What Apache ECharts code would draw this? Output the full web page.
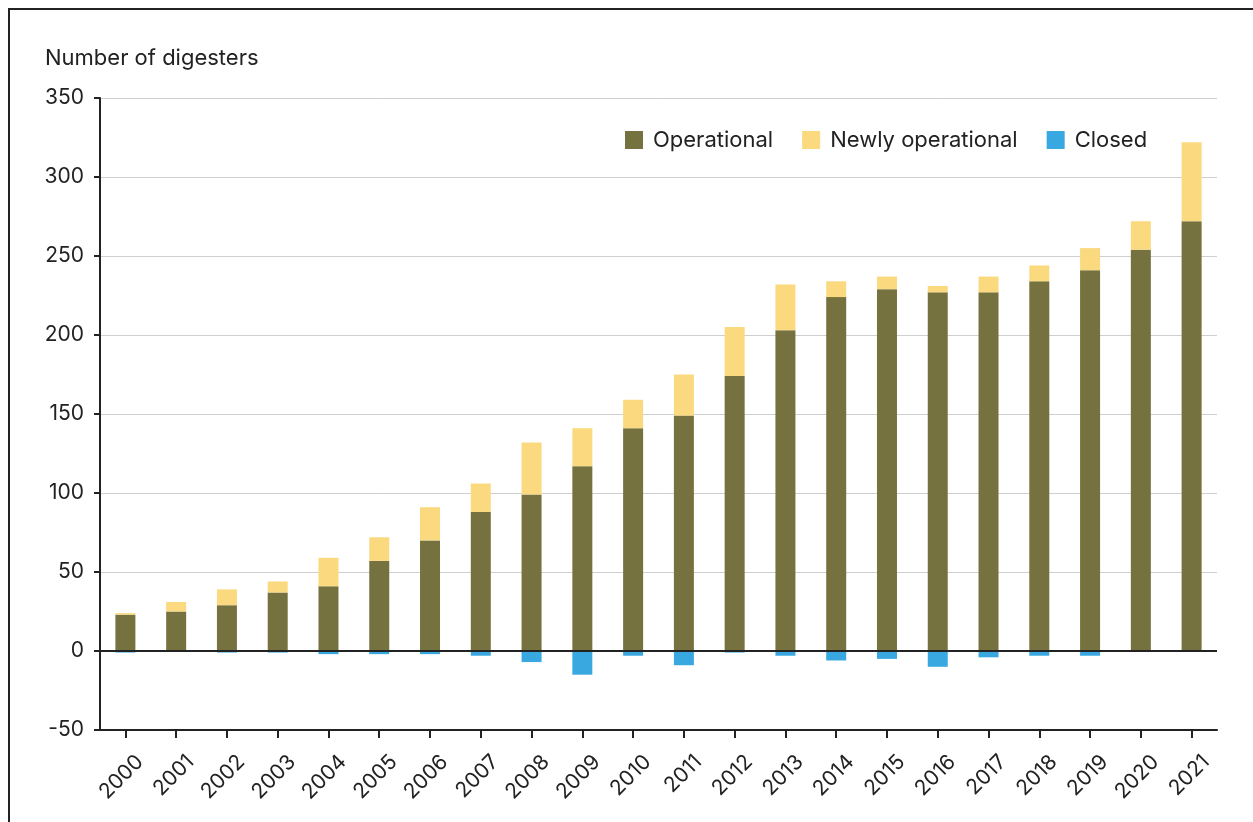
<!DOCTYPE html>
<html>
<head>
<meta charset="utf-8">
<script src="https://cdn.jsdelivr.net/npm/echarts@6/dist/echarts.min.js"></script>
<style>
html,body{margin:0;padding:0;background:#fff;}
#frame{position:absolute;left:8px;top:8px;width:1300px;height:900px;border-left:2px solid #222;border-top:2px solid #222;box-sizing:border-box;}
#chart{position:absolute;left:0;top:0;width:1253px;height:822px;}
</style>
</head>
<body>
<div id="frame"></div>
<div id="chart"></div>
<script>
const years = ['2000','2001','2002','2003','2004','2005','2006','2007','2008','2009','2010','2011','2012','2013','2014','2015','2016','2017','2018','2019','2020','2021'];
const operational = [23,25,29,37,41,57,70,88,99,117,141,149,174,203,224,229,227,227,234,241,254,272];
const newlyOperational = [1,6,10,7,18,15,21,18,33,24,18,26,31,29,10,8,4,10,10,14,18,50];
const closed = [-1,0,-1,-1,-2,-2,-2,-3,-7,-15,-3,-9,-1,-3,-6,-5,-10,-4,-3,-3,0,0];

const FONT = 'Inter, "Noto Sans", sans-serif';
const chart = echarts.init(document.getElementById('chart'), null, {renderer:'canvas'});
chart.setOption({
  animation:false,
  textStyle:{fontFamily:FONT},
  graphic:[{type:'text',left:45,top:47,style:{text:'Number of digesters',font:'22px '+FONT,fill:'#222'}}],
  legend:{
    left:620, top:124, itemWidth:18, itemHeight:18, itemGap:29,
    icon:'rect',
    textStyle:{fontSize:22,color:'#222',fontFamily:FONT,padding:[0,0,0,5]},
    data:['Operational','Newly operational','Closed']
  },
  grid:{left:100,right:36,top:98,bottom:92,containLabel:false},
  xAxis:{
    type:'category', data:years,
    axisLine:{show:true,onZero:false,lineStyle:{color:'#222',width:2}},
    axisTick:{show:true,alignWithLabel:true,length:8,lineStyle:{color:'#222',width:2}},
    axisLabel:{rotate:45,fontSize:21,color:'#222',margin:14,fontFamily:FONT,verticalAlign:'top',align:'right',padding:[10,0,0,0]},
    splitLine:{show:false}
  },
  yAxis:{
    type:'value', min:-50, max:350, interval:50,
    axisLine:{show:true,lineStyle:{color:'#222',width:2}},
    axisTick:{show:true,length:6,lineStyle:{color:'#222',width:2}},
    axisLabel:{fontSize:21,color:'#222',margin:16,fontFamily:FONT},
    splitLine:{show:true,lineStyle:{color:'#cfcfcf',width:1}}
  },
  series:[
    {name:'Operational',type:'bar',stack:'s',data:operational,barWidth:20,
     itemStyle:{color:'#76723F'},
     markLine:{silent:true,symbol:'none',label:{show:false},lineStyle:{color:'#222',width:2,type:'solid'},data:[{yAxis:0}]}},
    {name:'Newly operational',type:'bar',stack:'s',data:newlyOperational,barWidth:20,itemStyle:{color:'#FBD97F'}},
    {name:'Closed',type:'bar',stack:'s',data:closed,barWidth:20,itemStyle:{color:'#3AA8E0'}}
  ]
});
</script>
</body>
</html>
